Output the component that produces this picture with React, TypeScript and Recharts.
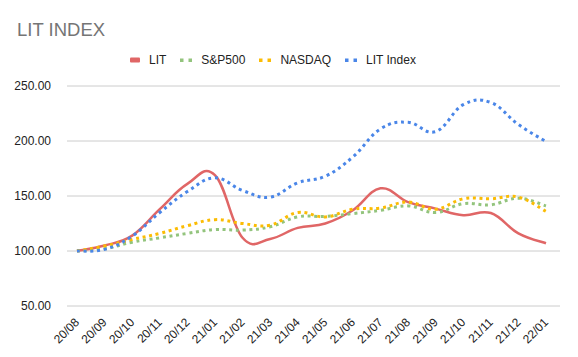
// Line chart comparing LIT against S&P500, NASDAQ and the LIT Index (rebased to 100).

import { LineChart, Line, XAxis, YAxis, CartesianGrid } from 'recharts';

const months = [
  '20/08', '20/09', '20/10', '20/11', '20/12', '21/01', '21/02', '21/03', '21/04',
  '21/05', '21/06', '21/07', '21/08', '21/09', '21/10', '21/11', '21/12', '22/01',
];
const lit = [100, 105, 114, 138, 161, 169, 112, 111, 121, 125, 137, 157, 144.5, 138.5, 132.5, 134.5, 116, 107];
const sp500 = [100, 102, 108, 112, 116, 119.5, 119, 122, 131, 131.5, 134, 137, 141, 135, 143, 142, 148, 141];
const nasdaq = [100, 104.5, 110.5, 116, 123, 128.5, 125, 123.5, 135, 131, 138, 139, 144.5, 138, 147.5, 147.5, 149, 136];
const litIndex = [100, 101.5, 113.5, 135, 154, 166.5, 155, 149, 162, 168, 185.5, 211, 217, 208.5, 233, 235, 215, 199.5];
const yTicks = [50, 100, 150, 200, 250];

const data = months.map((m, i) => ({
  month: m,
  LIT: lit[i],
  'S&P500': sp500[i],
  NASDAQ: nasdaq[i],
  'LIT Index': litIndex[i],
}));

const series = [
  { key: 'LIT', color: '#e06666', dotted: false },
  { key: 'S&P500', color: '#93c47d', dotted: true },
  { key: 'NASDAQ', color: '#fbbc04', dotted: true },
  { key: 'LIT Index', color: '#4a86e8', dotted: true },
];

const FONT = '"Liberation Sans", Arial, sans-serif';

// Cardinal-style smoothing, closer to the spreadsheet's curved lines than monotone.
function smoothCurve(context: any) {
  let pts: number[][] = [];
  const k = 1 / 5;
  return {
    areaStart() {},
    areaEnd() {},
    lineStart() {
      pts = [];
    },
    point(x: number, y: number) {
      pts.push([+x, +y]);
    },
    lineEnd() {
      if (!pts.length) return;
      context.moveTo(pts[0][0], pts[0][1]);
      for (let i = 0; i < pts.length - 1; i++) {
        const p0 = pts[Math.max(i - 1, 0)];
        const p1 = pts[i];
        const p2 = pts[i + 1];
        const p3 = pts[Math.min(i + 2, pts.length - 1)];
        context.bezierCurveTo(
          p1[0] + (p2[0] - p0[0]) * k,
          p1[1] + (p2[1] - p0[1]) * k,
          p2[0] - (p3[0] - p1[0]) * k,
          p2[1] - (p3[1] - p1[1]) * k,
          p2[0],
          p2[1],
        );
      }
    },
  };
}

const XTick = ({ x, y, payload }: any) => (
  <text
    x={x + 3}
    y={y + 9}
    textAnchor="end"
    fontSize={12}
    fill="#222"
    fontFamily={FONT}
    transform={`rotate(-45 ${x + 3} ${y + 9})`}
  >
    {payload.value}
  </text>
);

function LegendRow() {
  return (
    <div
      style={{
        position: 'absolute',
        top: 53,
        left: 130,
        display: 'flex',
        fontFamily: FONT,
        fontSize: 12,
        lineHeight: '14px',
        color: '#222',
      }}
    >
      {series.map((s) => (
        <div key={s.key} style={{ display: 'flex', alignItems: 'center', marginRight: 14 }}>
          <svg width={s.dotted ? 12 : 10} height={6} style={{ marginRight: 9 }}>
            {s.dotted ? (
              <>
                <rect x={0} y={1.5} width={3.5} height={3.5} fill={s.color} />
                <rect x={8.5} y={1.5} width={3.5} height={3.5} fill={s.color} />
              </>
            ) : (
              <rect x={0} y={0.5} width={10} height={5} rx={1} fill={s.color} />
            )}
          </svg>
          <span>{s.key}</span>
        </div>
      ))}
    </div>
  );
}

export default function App() {
  return (
    <div style={{ position: 'absolute', left: 0, top: 0, width: 578, height: 357, background: '#fff' }}>
      <div
        style={{
          position: 'absolute',
          left: 17,
          top: 19,
          fontFamily: FONT,
          fontSize: 18.5,
          color: '#757575',
        }}
      >
        LIT INDEX
      </div>
      <LegendRow />
      <LineChart width={578} height={357} data={data} margin={{ top: 86, right: 18, bottom: 0, left: 0 }}>
        <CartesianGrid vertical={false} stroke="#cccccc" />
        <XAxis
          dataKey="month"
          axisLine={false}
          tickLine={false}
          interval={0}
          padding={{ left: 10, right: 14 }}
          height={51}
          tick={<XTick />}
        />
        <YAxis
          width={67}
          domain={[50, 250]}
          ticks={yTicks}
          axisLine={false}
          tickLine={false}
          tickFormatter={(v: number) => v.toFixed(2)}
          tick={{ fontSize: 12, fill: '#222', fontFamily: FONT }}
          tickMargin={10}
        />
        {series.map((s) => (
          <Line
            key={s.key}
            dataKey={s.key}
            type={smoothCurve as any}
            stroke={s.color}
            strokeWidth={s.dotted ? 3 : 2.5}
            strokeDasharray={s.dotted ? '3 3.7' : undefined}
            dot={false}
            activeDot={false}
            isAnimationActive={false}
          />
        ))}
      </LineChart>
    </div>
  );
}
